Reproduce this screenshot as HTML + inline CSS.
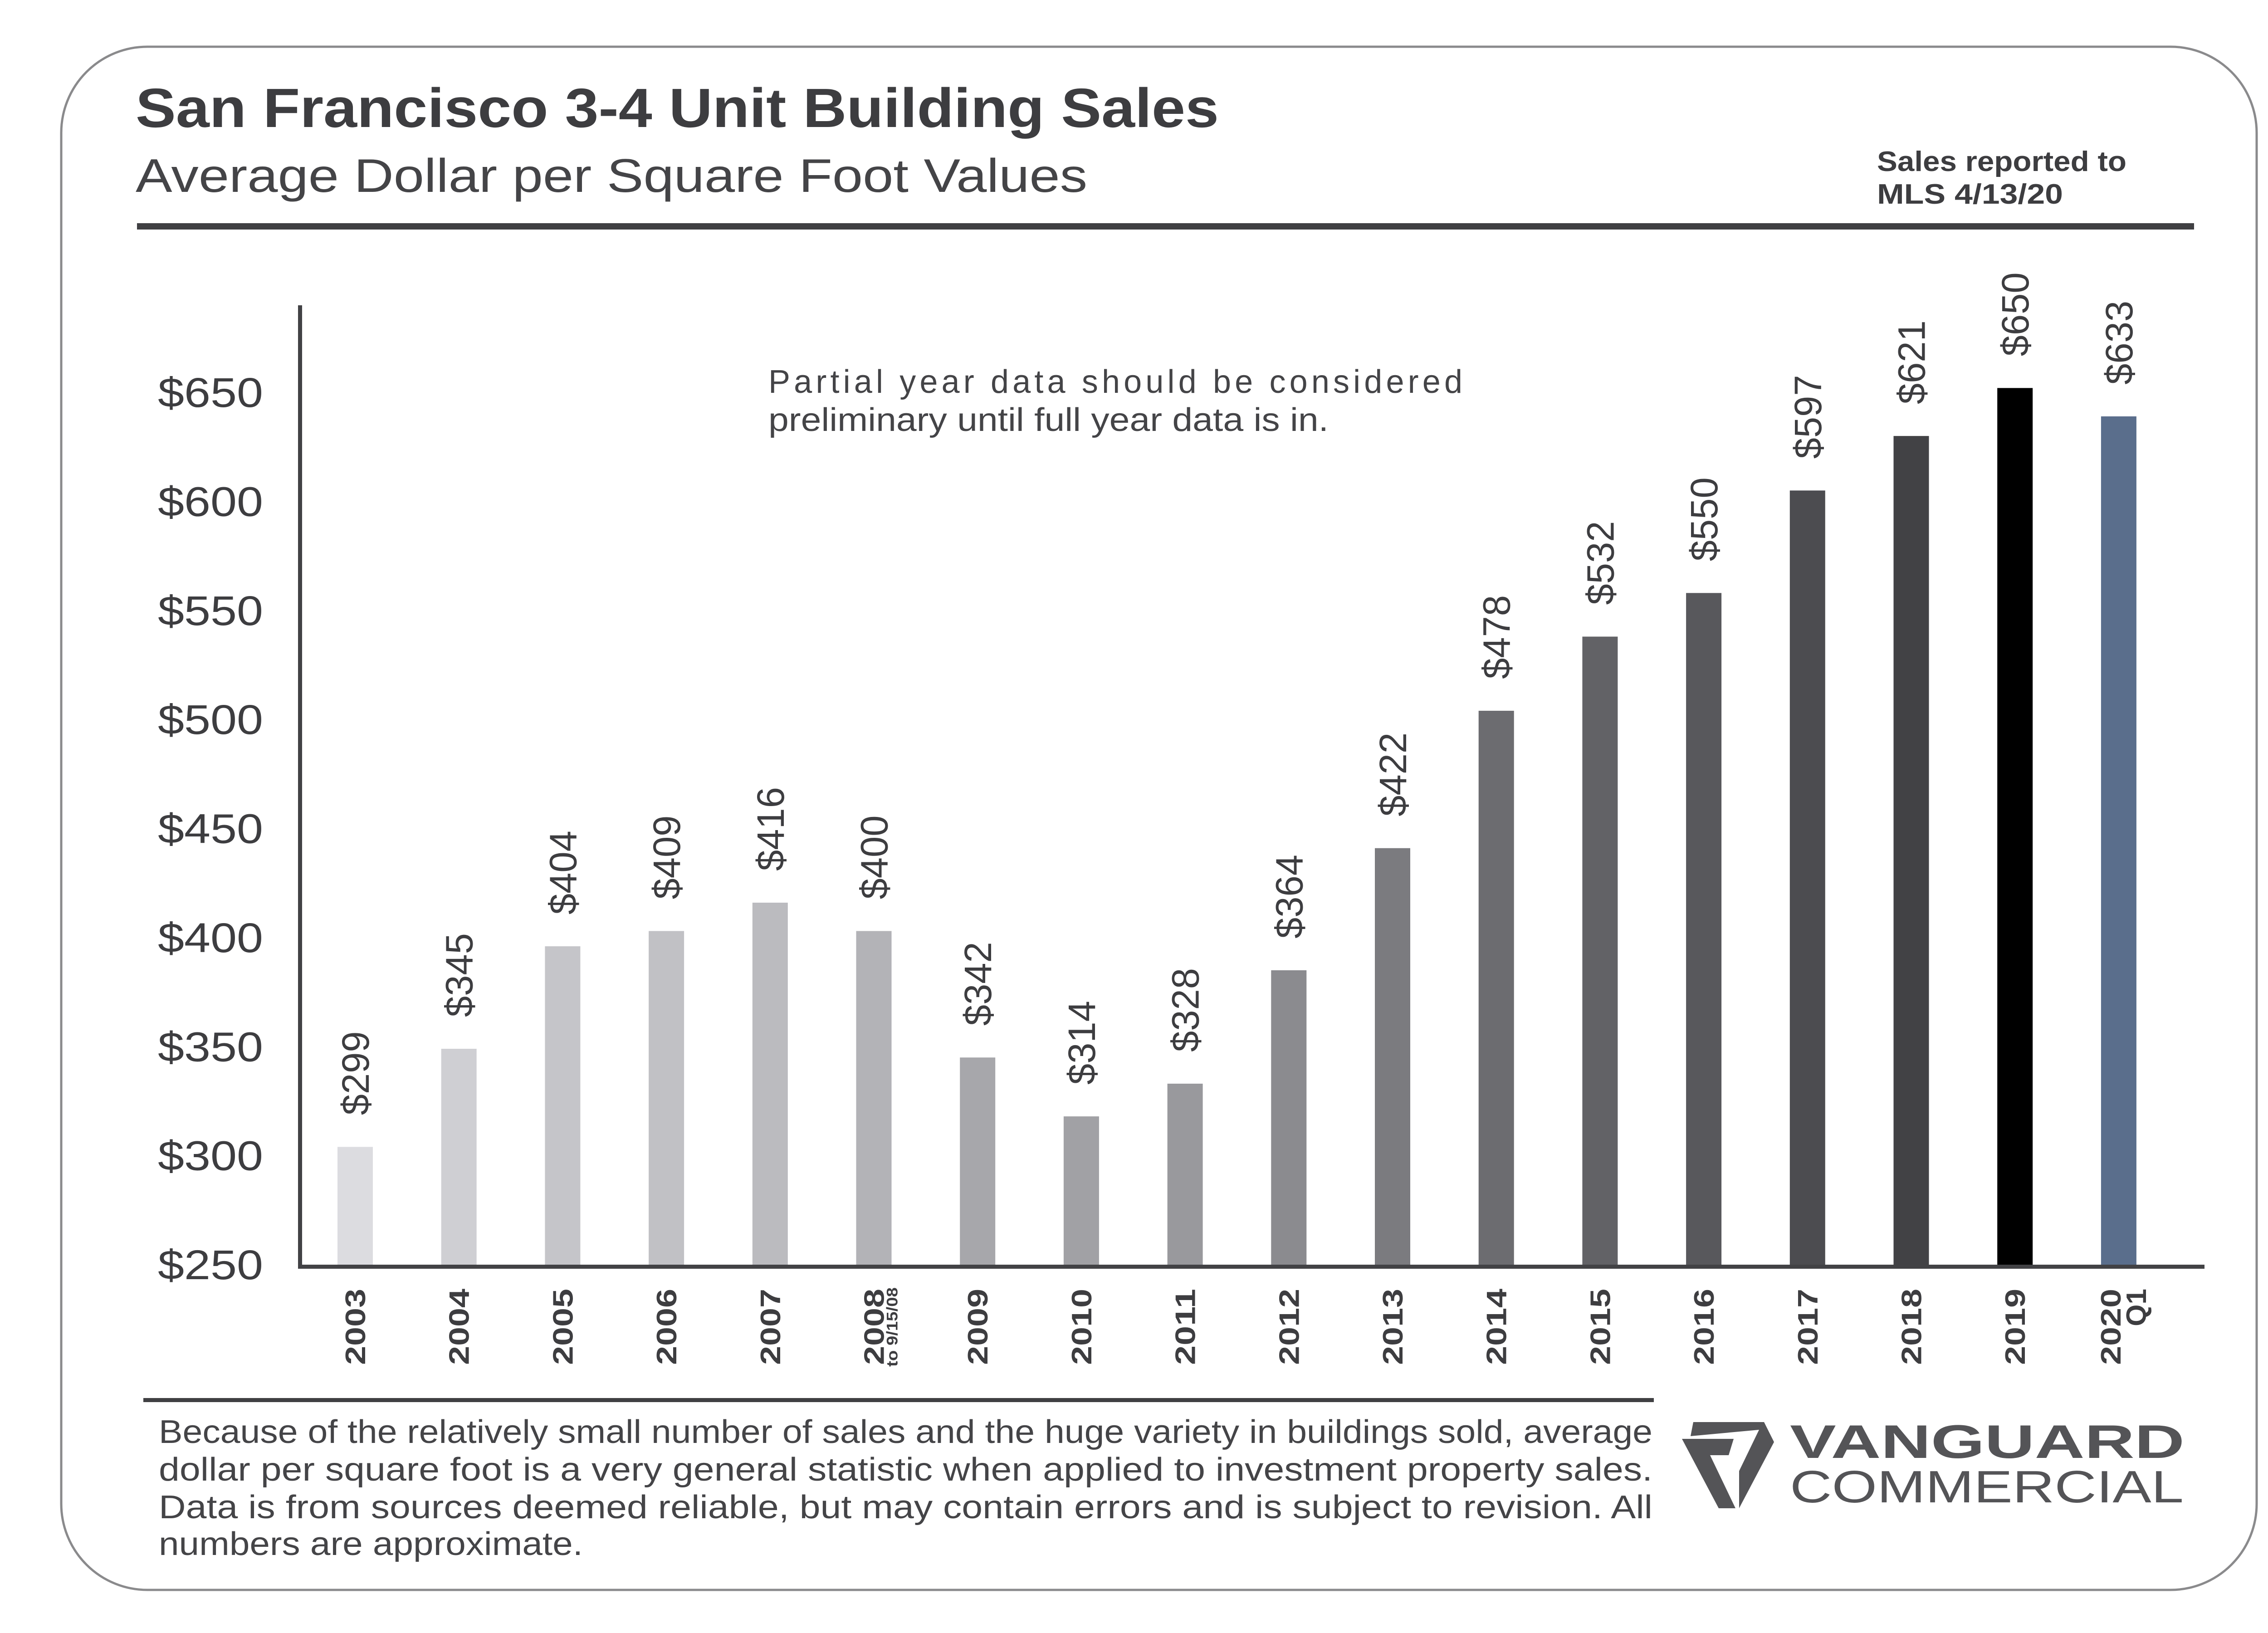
<!DOCTYPE html>
<html>
<head>
<meta charset="utf-8">
<style>
  html,body{margin:0;padding:0;background:#fff;}
  svg{display:block;}
  text{font-family:"Liberation Sans","DejaVu Sans",sans-serif;}
</style>
</head>
<body>
<svg id="chart" width="5100" height="3600" viewBox="0 0 5100 3600" xmlns="http://www.w3.org/2000/svg">
  <rect x="0" y="0" width="5100" height="3600" fill="#ffffff"/>
  <rect x="135" y="103" width="4840" height="3402" rx="190" ry="190" fill="none" stroke="#8a8a8c" stroke-width="5"/>

  <text x="299" y="280" font-size="122" font-weight="bold" fill="#3d3d40" textLength="2388" lengthAdjust="spacingAndGlyphs">San Francisco 3-4 Unit Building Sales</text>
  <text x="299" y="423" font-size="104" fill="#444447" textLength="2098" lengthAdjust="spacingAndGlyphs">Average Dollar per Square Foot Values</text>
  <text x="4138" y="377" font-size="62" font-weight="bold" fill="#3d3d40" textLength="550" lengthAdjust="spacingAndGlyphs">Sales reported to</text>
  <text x="4138" y="449" font-size="62" font-weight="bold" fill="#3d3d40" textLength="410" lengthAdjust="spacingAndGlyphs">MLS 4/13/20</text>
  <rect x="302" y="492" width="4535" height="14" fill="#404043"/>

  <text x="1694" y="866" font-size="72" fill="#444447" textLength="1530" lengthAdjust="spacing">Partial year data should be considered</text>
  <text x="1694" y="950" font-size="72" fill="#444447" textLength="1235" lengthAdjust="spacingAndGlyphs">preliminary until full year data is in.</text>

  <g id="plot"></g>

  <rect x="316" y="3082" width="3330" height="9" fill="#404043"/>
  <g font-size="72" fill="#444447">
    <text x="350" y="3181" textLength="3293" lengthAdjust="spacingAndGlyphs">Because of the relatively small number of sales and the huge variety in buildings sold, average</text>
    <text x="350" y="3264" textLength="3293" lengthAdjust="spacingAndGlyphs">dollar per square foot is a very general statistic when applied to investment property sales.</text>
    <text x="350" y="3347" textLength="3293" lengthAdjust="spacingAndGlyphs">Data is from sources deemed reliable, but may contain errors and is subject to revision. All</text>
    <text x="350" y="3428" textLength="935" lengthAdjust="spacingAndGlyphs">numbers are approximate.</text>
  </g>

  <g>
    <polygon fill="#545457" points="3733,3135 3889,3135 3911,3179 3834,3325 3834,3243 3878,3152 3727,3166"/>
    <polygon fill="#545457" points="3708,3172 3822,3172 3811,3208 3770,3208 3826,3325 3789,3325"/>
    <text x="3946" y="3214" font-size="104" font-weight="bold" fill="#545457" textLength="870" lengthAdjust="spacingAndGlyphs">VANGUARD</text>
    <text x="3946" y="3312" font-size="100" fill="#545457" textLength="868" lengthAdjust="spacingAndGlyphs">COMMERCIAL</text>
  </g>
</svg>

<script>
// ---- chart data ----
const years = ["2003","2004","2005","2006","2007","2008","2009","2010","2011","2012","2013","2014","2015","2016","2017","2018","2019","2020"];
const barValues = [304,349,396,403,416,403,345,318,333,385,441,504,538,558,605,630,652,639];
const valueLabels = ["$299","$345","$404","$409","$416","$400","$342","$314","$328","$364","$422","$478","$532","$550","$597","$621","$650","$633"];
const yTicks = [250,300,350,400,450,500,550,600,650];
const yTickLabels = ["$250","$300","$350","$400","$450","$500","$550","$600","$650"];
const barColors = ["#dcdce0","#cfcfd3","#c5c5c9","#c1c1c5","#bbbbbf","#b3b3b7","#a7a7ab","#a1a1a5","#99999d","#8b8b8f","#7b7b7f","#6c6c70","#626266","#58585c","#4c4c50","#424245","#000000","#5a6e8c"];

// ---- axis functions ----
const Y0 = 2788, PX_PER_DOLLAR = 4.8075, VMIN = 250;
function yScale(v){ return Y0 - (v - VMIN) * PX_PER_DOLLAR; }
const X0 = 783, STEP = 228.7;
function xScale(i){ return X0 + i * STEP; }
const BAR_W = 78;

const NS = "http://www.w3.org/2000/svg";
const plot = document.getElementById("plot");
function mk(tag, attrs){ const e = document.createElementNS(NS, tag); for (const k in attrs) e.setAttribute(k, attrs[k]); return e; }

// y tick labels
yTicks.forEach((v, i) => {
  const t = mk("text", {x: 580, y: yScale(v) + 32, "font-size": 92, fill: "#3d3d40", "text-anchor": "end"});
  
  
  t.setAttribute('textLength', 232);
  t.setAttribute('lengthAdjust', 'spacingAndGlyphs');
  t.textContent = yTickLabels[i];
  plot.appendChild(t);
});

// bars
barValues.forEach((v, i) => {
  const cx = xScale(i);
  const top = yScale(v);
  const r = mk("rect", {x: cx - BAR_W/2, y: top, width: BAR_W, height: Y0 - top, fill: barColors[i]});
  
  
  plot.appendChild(r);

  const lx = cx + 30, ly = top - 70;
  const t = mk("text", {x: lx, y: ly, "font-size": 84, fill: "#3d3d40", transform: "rotate(-90 " + lx + " " + ly + ")"});
  
  
  t.setAttribute('textLength', 185);
  t.setAttribute('lengthAdjust', 'spacingAndGlyphs');
  t.textContent = valueLabels[i];
  plot.appendChild(t);

  // year labels
  let yx = cx + 22;
  if (years[i] === "2020") yx = cx + 4;
  const yl = mk("text", {x: yx, y: 2841, "font-size": 62, "font-weight": "bold", fill: "#3d3d40", "text-anchor": "end", transform: "rotate(-90 " + yx + " 2841)"});
  
  
  yl.setAttribute('textLength', 168);
  yl.setAttribute('lengthAdjust', 'spacingAndGlyphs');
  yl.textContent = years[i];
  plot.appendChild(yl);

  if (years[i] === "2008") {
    const sx = cx + 52;
    const s = mk("text", {x: sx, y: 2838, "font-size": 34, "font-weight": "bold", fill: "#3d3d40", "text-anchor": "end", transform: "rotate(-90 " + sx + " 2838)"});
    
    
    s.setAttribute('textLength', 175);
    s.setAttribute('lengthAdjust', 'spacingAndGlyphs');
    s.textContent = "to 9/15/08";
    plot.appendChild(s);
  }
  if (years[i] === "2020") {
    const qx = cx + 60;
    const q = mk("text", {x: qx, y: 2841, "font-size": 62, "font-weight": "bold", fill: "#3d3d40", "text-anchor": "end", transform: "rotate(-90 " + qx + " 2841)"});
    
    
    q.textContent = "Q1";
    plot.appendChild(q);
  }
});

// axes
const yAxis = mk("rect", {x: 657, y: 673, width: 9, height: Y0 - 673 + 9, fill: "#424245"});


plot.appendChild(yAxis);
const xAxis = mk("rect", {x: 657, y: Y0, width: 4860 - 657, height: 9, fill: "#424245"});


plot.appendChild(xAxis);
</script>
</body>
</html>
